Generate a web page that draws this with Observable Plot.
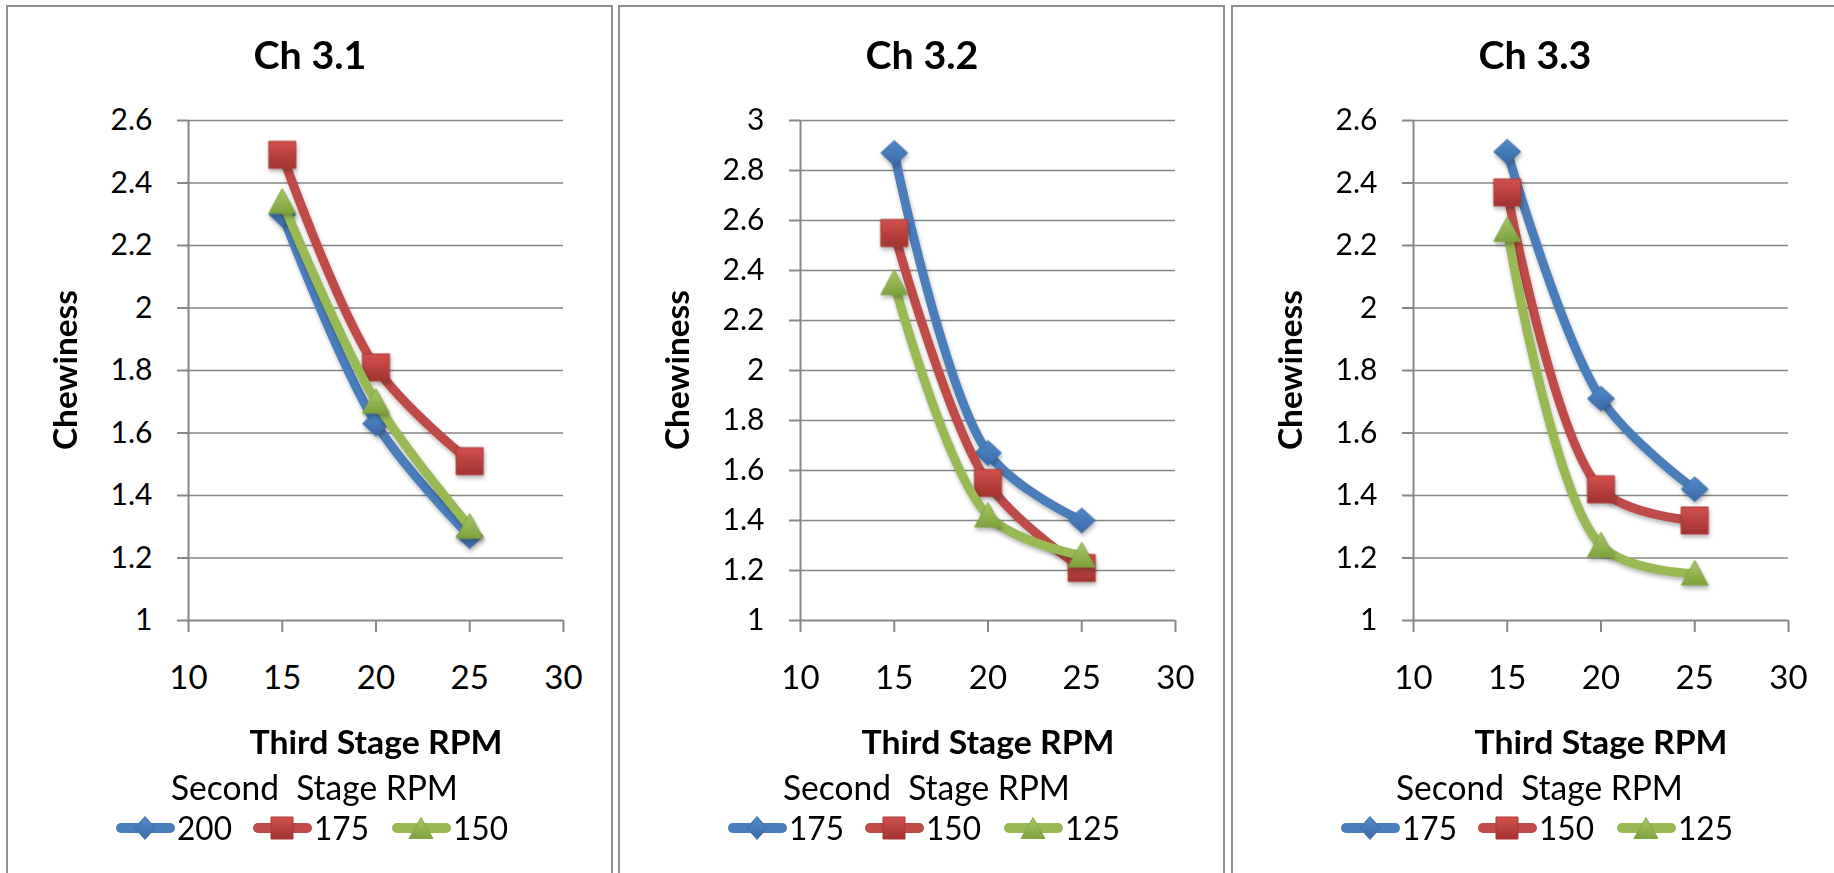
<!DOCTYPE html>
<html>
<head>
<meta charset="utf-8">
<script src="https://cdn.jsdelivr.net/npm/d3@7"></script>
<script src="https://cdn.jsdelivr.net/npm/@observablehq/plot@0.6"></script>
<style>
  html, body { margin: 0; padding: 0; background: #fff; }
  body { width: 1834px; height: 873px; position: relative; overflow: hidden; font-family: Lato, "Open Sans", sans-serif; color: #000; }
  .panel { position: absolute; top: 5px; width: 607px; height: 900px; border: 2px solid #8f8f8f; box-sizing: border-box; background: #fff; }
  .panel svg { position: absolute; left: 0; top: 0; overflow: visible; }
  .panel g[aria-label="y-axis tick"], .panel g[aria-label="x-axis tick"],
  .panel g[aria-label="y-axis"] .tick line, .panel g[aria-label="x-axis"] .tick line { stroke: #878787; stroke-width: 2px; }
  .panel g[aria-label="x-axis tick label"], .panel g[aria-label="x-axis"] text { font-size: 33px; }
  .panel g[aria-label="line"] { filter: drop-shadow(1px 3px 2px rgba(0,0,0,0.28)); }
  .panel g[aria-label="dot"] { filter: drop-shadow(1px 3px 2px rgba(0,0,0,0.28)); }
</style>
</head>
<body>
<svg width="0" height="0" style="position:absolute">
  <defs>
    <linearGradient id="gradBlue" x1="0" y1="0" x2="0" y2="1">
      <stop offset="0" stop-color="#5189c9"/><stop offset="1" stop-color="#3a6aa6"/>
    </linearGradient>
    <linearGradient id="gradRed" x1="0" y1="0" x2="0" y2="1">
      <stop offset="0" stop-color="#d2504c"/><stop offset="1" stop-color="#a23431"/>
    </linearGradient>
    <linearGradient id="gradGreen" x1="0" y1="0" x2="0" y2="1">
      <stop offset="0" stop-color="#a6c868"/><stop offset="1" stop-color="#7fa13d"/>
    </linearGradient>
  </defs>
</svg>
<script>
// Third stage RPM (x) and axis ticks
const thirdStageRpm = [15, 20, 25];
const xTicks = [10, 15, 20, 25, 30];

// Ch 3.1 — chewiness by second stage RPM
const ch31Title = "Ch 3.1";
const ch31Labels = ["200", "175", "150"];
const ch31_200 = [2.30, 1.63, 1.27];
const ch31_175 = [2.49, 1.81, 1.51];
const ch31_150 = [2.34, 1.70, 1.30];
const ch31Ticks = [1, 1.2, 1.4, 1.6, 1.8, 2, 2.2, 2.4, 2.6];

// Ch 3.2
const ch32Title = "Ch 3.2";
const ch32Labels = ["175", "150", "125"];
const ch32_175 = [2.87, 1.67, 1.40];
const ch32_150 = [2.55, 1.55, 1.21];
const ch32_125 = [2.35, 1.42, 1.26];
const ch32Ticks = [1, 1.2, 1.4, 1.6, 1.8, 2, 2.2, 2.4, 2.6, 2.8, 3];

// Ch 3.3
const ch33Title = "Ch 3.3";
const ch33Labels = ["175", "150", "125"];
const ch33_175 = [2.50, 1.71, 1.42];
const ch33_150 = [2.37, 1.42, 1.32];
const ch33_125 = [2.25, 1.24, 1.15];
const ch33Ticks = [1, 1.2, 1.4, 1.6, 1.8, 2, 2.2, 2.4, 2.6];

const yLabel = "Chewiness";
const xLabel = "Third Stage RPM";
const legendTitle = "Second  Stage RPM";

// Series styling (1st blue diamond, 2nd red square, 3rd green triangle)
const lineColors = ["#4a7ebb", "#be4b48", "#98b954"];
const edgeColors = ["#3d6ca6", "#a93b38", "#84a544"];
const fills = ["url(#gradBlue)", "url(#gradRed)", "url(#gradGreen)"];

const rad = size => Math.sqrt(size / Math.PI);
const diamond = { draw(ctx, size) { const h = rad(size); ctx.moveTo(0, -h * 0.92); ctx.lineTo(h, 0); ctx.lineTo(0, h * 0.92); ctx.lineTo(-h, 0); ctx.closePath(); } };
const square = { draw(ctx, size) { const h = rad(size); ctx.rect(-h, -h, 2 * h, 2 * h); } };
const triangle = { draw(ctx, size) { const h = rad(size); ctx.moveTo(0, -h * 0.98); ctx.lineTo(h, h * 0.86); ctx.lineTo(-h, h * 0.86); ctx.closePath(); } };
const symbols = [diamond, square, triangle];

const panels = [
  { title: ch31Title, labels: ch31Labels, values: [ch31_200, ch31_175, ch31_150], ticks: ch31Ticks },
  { title: ch32Title, labels: ch32Labels, values: [ch32_175, ch32_150, ch32_125], ticks: ch32Ticks },
  { title: ch33Title, labels: ch33Labels, values: [ch33_175, ch33_150, ch33_125], ticks: ch33Ticks }
];
const panelLefts = [6, 618, 1231];

const W = 603, H = 680;

panels.forEach((p, pi) => {
  const div = document.createElement("div");
  div.className = "panel";
  div.style.left = panelLefts[pi] + "px";
  document.body.appendChild(div);

  const marks = [
    Plot.ruleY(p.ticks.slice(1), { stroke: "#878787", strokeWidth: 1.6 }),
    Plot.ruleX([xTicks[0]], { stroke: "#878787", strokeWidth: 2 }),
    Plot.ruleY([p.ticks[0]], { stroke: "#878787", strokeWidth: 2 })
  ];
  p.values.forEach((vals, si) => {
    const rows = thirdStageRpm.map((x, j) => ({ x, y: vals[j], series: p.labels[si] }));
    marks.push(Plot.line(rows, { x: "x", y: "y", stroke: lineColors[si], strokeWidth: 9, curve: "catmull-rom", strokeLinecap: "round", strokeLinejoin: "round" }));
    marks.push(Plot.dot(rows, { x: "x", y: "y", symbol: symbols[si], r: 13.5, fill: fills[si], stroke: edgeColors[si], strokeWidth: 1 }));
  });

  const chart = Plot.plot({
    width: W, height: H,
    marginLeft: 180, marginRight: 48, marginTop: 113, marginBottom: 67,
    x: { domain: [xTicks[0], xTicks[xTicks.length - 1]], ticks: xTicks, tickSize: 12, tickPadding: 33, tickFormat: d => String(d), label: null },
    y: { domain: [p.ticks[0], p.ticks[p.ticks.length - 1]], ticks: p.ticks, tickSize: 11, tickPadding: 25, tickFormat: d => String(+d.toFixed(1)), label: null },
    style: { fontFamily: "Lato, sans-serif", fontSize: "30px", color: "#000", background: "transparent", overflow: "visible" },
    marks
  });
  div.appendChild(chart);

  // Titles, axis labels and legend
  const ov = d3.create("svg").attr("width", W).attr("height", 880)
    .style("font-family", "Lato, sans-serif").attr("fill", "#000");
  ov.append("text").attr("x", 302).attr("y", 62).attr("text-anchor", "middle")
    .attr("font-weight", 700).attr("font-size", 38)
    .attr("textLength", 113).attr("lengthAdjust", "spacingAndGlyphs").text(p.title);
  ov.append("text").attr("transform", "translate(69,363) rotate(-90)").attr("text-anchor", "middle")
    .attr("font-weight", 700).attr("font-size", 33)
    .attr("textLength", 160).attr("lengthAdjust", "spacingAndGlyphs").text(yLabel);
  ov.append("text").attr("x", 368).attr("y", 747).attr("text-anchor", "middle")
    .attr("font-weight", 700).attr("font-size", 32)
    .attr("textLength", 253).attr("lengthAdjust", "spacingAndGlyphs").text(xLabel);
  ov.append("text").attr("x", 163).attr("y", 793).attr("font-size", 34)
    .attr("textLength", 287).attr("lengthAdjust", "spacingAndGlyphs")
    .style("white-space", "pre").attr("xml:space", "preserve").text(legendTitle);

  const itemLefts = [108, 245, 384];
  const legendSizes = [[10, 11.5], [11, 11], [12, 10.5]];
  p.labels.forEach((lab, si) => {
    const g = ov.append("g").attr("transform", `translate(${itemLefts[si]},821)`);
    g.append("line").attr("x1", 5).attr("x2", 54).attr("y1", 0).attr("y2", 0)
      .attr("stroke", lineColors[si]).attr("stroke-width", 10).attr("stroke-linecap", "round");
    const [hw, hh] = legendSizes[si];
    let d;
    if (si === 0) d = `M29,${-hh}L${29 + hw},0L29,${hh}L${29 - hw},0Z`;
    else if (si === 1) d = `M${29 - hw},${-hh}h${2 * hw}v${2 * hh}h${-2 * hw}Z`;
    else d = `M29,${-hh}L${29 + hw},${hh}L${29 - hw},${hh}Z`;
    g.append("path").attr("d", d).attr("fill", fills[si]).attr("stroke", edgeColors[si]).attr("stroke-width", 1);
    g.append("text").attr("x", 61).attr("y", 12).attr("font-size", 33)
      .attr("textLength", 55).attr("lengthAdjust", "spacingAndGlyphs").text(lab);
  });
  div.appendChild(ov.node());
});
</script>
</body>
</html>
